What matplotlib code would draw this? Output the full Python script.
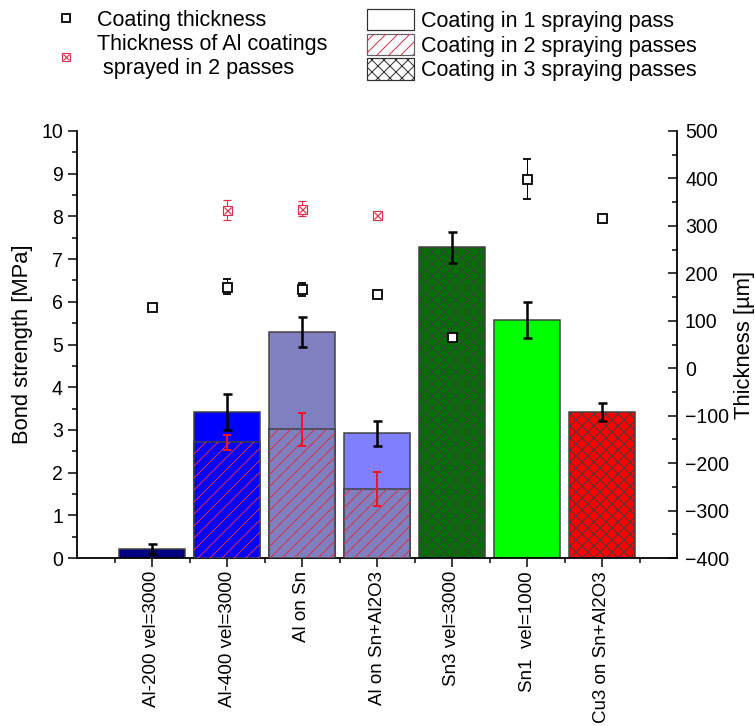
import numpy as np
import matplotlib.pyplot as plt
from matplotlib.patches import Patch
from matplotlib.lines import Line2D
from matplotlib.ticker import MultipleLocator, FixedLocator

plt.rcParams['font.family'] = ['Liberation Sans', 'DejaVu Sans']
plt.rcParams['hatch.linewidth'] = 1.0

# data
categories = ['Al-200 vel=3000', 'Al-400 vel=3000', 'Al on Sn', 'Al on Sn+Al2O3',
              'Sn3 vel=3000', 'Sn1  vel=1000', 'Cu3 on Sn+Al2O3']
bond = [0.21, 3.41, 5.30, 2.92, 7.28, 5.58, 3.41]
bond_err = [0.12, 0.42, 0.35, 0.29, 0.36, 0.42, 0.21]
first_pass = [np.nan, 2.71, 3.01, 1.61, np.nan, np.nan, np.nan]
first_pass_err = [np.nan, 0.17, 0.38, 0.40, np.nan, np.nan, np.nan]
thickness = [130, 172, 166, 157, 65, 399, 317]
thickness_err = [0, 16, 13, 0, 4, 43, 0]
thickness2 = [np.nan, 334, 336, 323, np.nan, np.nan, np.nan]
thickness2_err = [np.nan, 21, 16, 4, np.nan, np.nan, np.nan]

top_colors = ['#000080', '#0000ff', '#8080c0', '#8080ff', '#007000', '#00ff00', '#ff0000']
low_colors = [None, '#0000ff', '#8080c0', '#8080c0', None, None, None]
hatches = ['', '', '', '', 'xx', '', 'xx']

red = '#d8304a'
edge = '#404040'

x = np.arange(1, len(categories) + 1)

fig = plt.figure(figsize=(755 / 72, 726 / 72), dpi=72)
ax = fig.add_axes([77 / 755, 1 - 558 / 726, 600 / 755, 427 / 726])

# full bars
for i in range(len(x)):
    ax.bar(x[i], bond[i], width=0.89, color=top_colors[i], edgecolor=edge,
           linewidth=1.5, hatch=hatches[i], zorder=2)
# lower part = first spraying pass, red slash hatch
for i in range(len(x)):
    if np.isnan(first_pass[i]):
        continue
    ax.bar(x[i], first_pass[i], width=0.89, color=low_colors[i], edgecolor=edge,
           linewidth=1.5, zorder=3)
    ax.bar(x[i], first_pass[i], width=0.89, facecolor='none', edgecolor=red,
           linewidth=0, hatch='//', zorder=3.5)

ax.errorbar(x, bond, yerr=bond_err, fmt='none', ecolor='black', elinewidth=2.5,
            capsize=4.5, capthick=2.5, zorder=5)
ax.errorbar(x, first_pass, yerr=first_pass_err, fmt='none', ecolor='#ff1020',
            elinewidth=2, capsize=4, capthick=2, zorder=5)

ax.set_xlim(0, 8)
ax.set_ylim(0, 10)
ax.set_xticks(x)
ax.set_xticklabels(categories, rotation=90)
ax.xaxis.set_minor_locator(FixedLocator(np.arange(0.5, 8, 1)))
ax.yaxis.set_major_locator(MultipleLocator(1))
ax.yaxis.set_minor_locator(MultipleLocator(0.5))
ax.tick_params(axis='both', which='major', direction='out', length=9, width=1.5,
               labelsize=19.5, pad=5)
ax.tick_params(axis='both', which='minor', direction='out', length=5, width=1.5)
ax.tick_params(axis='x', which='major', labelsize=18.8, pad=4)
ax.spines['top'].set_visible(False)
ax.spines['right'].set_visible(False)
ax.spines['left'].set_linewidth(1.8)
ax.spines['bottom'].set_linewidth(1.8)
ax.set_ylabel('Bond strength [MPa]', fontsize=22)
ax.yaxis.set_label_coords(-0.073, 0.5)

ax2 = ax.twinx()
ax2.set_ylim(-400, 500)
ax2.yaxis.set_major_locator(MultipleLocator(100))
ax2.yaxis.set_minor_locator(MultipleLocator(50))
ax2.tick_params(axis='y', which='major', direction='in', length=9, width=1.5,
                labelsize=19.5, pad=8)
ax2.tick_params(axis='y', which='minor', direction='in', length=5, width=1.5)
for s in ['top', 'left', 'bottom']:
    ax2.spines[s].set_visible(False)
ax2.spines['right'].set_linewidth(1.8)
ax2.set_ylabel('Thickness [\u00b5m]', fontsize=22)
ax2.yaxis.set_label_coords(1.095, 0.5)

ax2.errorbar(x, thickness, yerr=thickness_err, fmt='s', ms=9, mfc='white',
             mec='black', mew=1.8, ecolor='black', elinewidth=1, capsize=4,
             capthick=1, zorder=6)
ax2.errorbar(x, thickness2, yerr=thickness2_err, fmt='s', ms=9, mfc='white',
             mec=red, mew=1.2, ecolor=red, elinewidth=1, capsize=4,
             capthick=1, zorder=6)
ax2.plot(x, thickness2, ls='none', marker='x', ms=7, mec=red, mew=1.2, zorder=7)

# legends
h_thick = Line2D([], [], ls='none', marker='s', ms=8, mfc='white', mec='black', mew=1.8)
h_thick2 = (Line2D([], [], ls='none', marker='s', ms=8, mfc='white', mec=red, mew=1.1),
            Line2D([], [], ls='none', marker='x', ms=6, mec=red, mew=1.1))
leg1 = fig.legend([h_thick, h_thick2],
                  ['Coating thickness', 'Thickness of Al coatings\n sprayed in 2 passes'],
                  loc='upper left', bbox_to_anchor=(56 / 755, 1 - 10 / 726),
                  frameon=False, fontsize=21.5, borderpad=0, borderaxespad=0,
                  handlelength=0.9, handletextpad=1.0, labelspacing=0.14)

p1 = Patch(facecolor='white', edgecolor='#303030', linewidth=1.2)
p2 = (Patch(facecolor='white', edgecolor='#606060', linewidth=1.2),
      Patch(facecolor='none', edgecolor=red, linewidth=0, hatch='//'))
p3 = Patch(facecolor='white', edgecolor='#303030', linewidth=1.2, hatch='xx')
leg2 = fig.legend([p1, p2, p3],
                  ['Coating in 1 spraying pass', 'Coating in 2 spraying passes',
                   'Coating in 3 spraying passes'],
                  loc='upper left', bbox_to_anchor=(367 / 755, 1 - 9 / 726),
                  frameon=False, fontsize=21.5, borderpad=0, borderaxespad=0,
                  handlelength=2.2, handleheight=1.16, handletextpad=0.3,
                  labelspacing=0.07)

fig.savefig('out.png', dpi=72)
